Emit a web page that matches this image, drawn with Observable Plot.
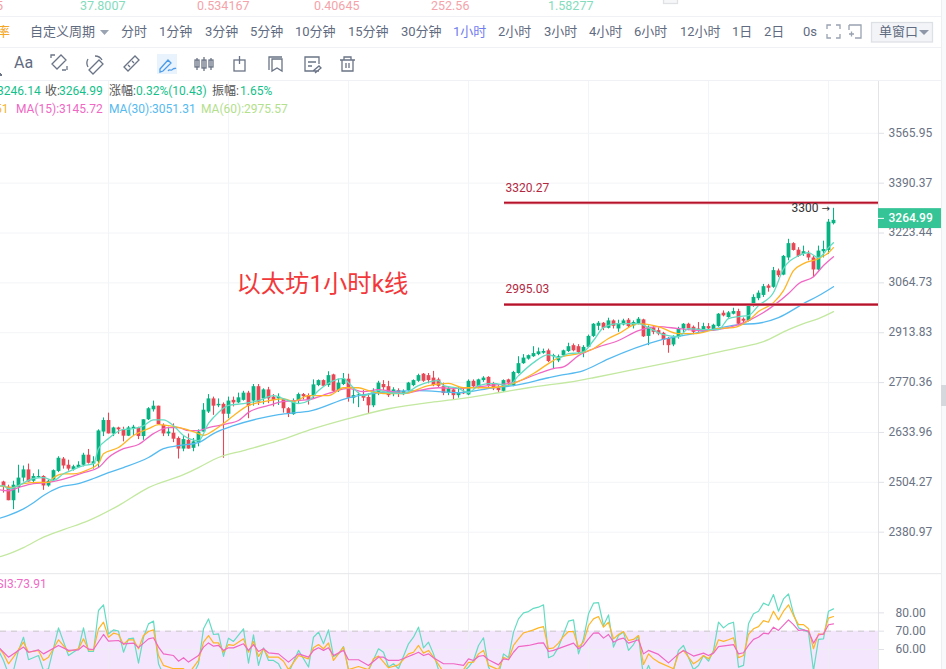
<!DOCTYPE html>
<html><head><meta charset="utf-8">
<script src="https://cdn.jsdelivr.net/npm/d3@7"></script>
<script src="https://cdn.jsdelivr.net/npm/@observablehq/plot@0.6"></script>
<style>
html,body{margin:0;padding:0;background:#fff;width:946px;height:669px;overflow:hidden;font-family:Roboto,"Noto Sans CJK SC",sans-serif}
#head{position:relative;width:946px;height:81px;overflow:hidden}
#head span{position:absolute;white-space:nowrap}
.hl{position:absolute;left:0;width:941px;height:1px;background:#f0f1f5}
.t{font-size:13px;color:#5f6b80;top:24px;line-height:16px}
.n{font-size:12.5px;top:0;line-height:11px}
#head svg{position:absolute;left:0;top:0}
#strip{position:absolute;left:941px;top:0;width:5px;height:669px;background:#f8f9fb;border-left:1px solid #eceef2}
#tab{position:absolute;left:941px;top:385px;width:5px;height:21px;background:#d5d8dd}
svg.plot,figure{margin:0}
#wrap svg{display:block}
#legend{position:absolute;left:0;top:0;width:878px;height:120px;pointer-events:none;overflow:hidden}
#legend span{position:absolute;white-space:nowrap}
</style></head><body>
<div id="head"></div>
<div id="wrap"></div>
<div id="legend"></div>
<div id="strip"></div><div id="tab"></div>
<script>
// ---------- candles (one hourly bar per entry) ----------
const opens=[2505,2492,2458,2491,2515,2536,2507,2516,2519,2495,
2510,2532,2564,2548,2536,2542,2548,2574,2551,2557,
2635,2666,2630,2646,2641,2624,2644,2646,2623,2668,
2695,2705,2653,2630,2632,2618,2590,2613,2592,2606,
2635,2689,2725,2706,2710,2683,2721,2714,2721,2741,
2719,2759,2725,2750,2730,2725,2723,2698,2682,2719,
2737,2734,2734,2762,2776,2762,2792,2748,2765,2780,
2727,2734,2736,2729,2706,2740,2765,2759,2737,2748,
2740,2748,2762,2774,2794,2790,2783,2778,2759,2740,
2750,2734,2743,2736,2774,2757,2776,2785,2767,2755,
2746,2778,2762,2796,2824,2837,2844,2850,2854,2861,
2844,2832,2847,2859,2876,2873,2854,2871,2903,2933,
2942,2927,2949,2925,2937,2951,2934,2941,2952,2903,
2928,2920,2912,2897,2878,2900,2925,2939,2930,2925,
2918,2932,2920,2932,2972,2959,2969,2977,2954,2948,
2993,3016,3026,3055,3051,3102,3089,3143,3189,3168,
3154,3156,3143,3105,3163,3167,3254];
const closes=[2492,2458,2497,2515,2536,2505,2519,2519,2495,2507,
2534,2566,2546,2538,2544,2548,2574,2553,2557,2638,
2666,2630,2646,2641,2624,2646,2648,2623,2668,2698,
2705,2655,2630,2635,2616,2590,2615,2590,2609,2635,
2694,2725,2705,2710,2683,2719,2714,2728,2741,2705,
2759,2716,2750,2725,2721,2730,2698,2685,2719,2737,
2731,2720,2764,2776,2760,2790,2746,2769,2780,2727,
2734,2736,2727,2706,2743,2769,2756,2734,2750,2739,
2746,2769,2776,2790,2774,2776,2762,2760,2740,2753,
2734,2740,2739,2774,2759,2778,2783,2762,2753,2748,
2776,2769,2799,2824,2840,2847,2853,2858,2859,2830,
2847,2844,2861,2873,2861,2856,2871,2903,2939,2942,
2927,2949,2933,2939,2949,2932,2944,2954,2902,2930,
2915,2910,2892,2876,2900,2925,2939,2925,2915,2920,
2932,2925,2936,2969,2964,2973,2977,2939,2948,2993,
3020,3033,3053,3048,3103,3087,3148,3189,3167,3148,
3163,3143,3105,3165,3170,3259,3265];
const highs=[2507,2497,2507,2548,2546,2551,2526,2536,2521,2510,
2536,2570,2568,2561,2548,2557,2579,2589,2570,2641,
2673,2686,2648,2648,2648,2650,2653,2648,2668,2701,
2719,2705,2657,2648,2657,2622,2623,2630,2618,2641,
2712,2737,2730,2725,2714,2730,2730,2741,2746,2746,
2765,2765,2753,2757,2737,2739,2725,2701,2725,2741,
2740,2739,2778,2778,2778,2801,2794,2780,2796,2794,
2753,2743,2748,2739,2753,2774,2776,2774,2756,2753,
2750,2771,2778,2794,2796,2796,2802,2783,2769,2759,
2753,2756,2756,2778,2778,2780,2787,2787,2771,2762,
2778,2780,2802,2844,2850,2849,2873,2869,2866,2866,
2851,2849,2863,2883,2881,2879,2876,2907,2941,2947,
2944,2957,2952,2951,2954,2956,2949,2959,2954,2934,
2932,2928,2915,2900,2905,2930,2941,2942,2934,2944,
2942,2941,2939,2971,2979,2977,2987,2984,2958,2996,
3028,3040,3060,3060,3113,3108,3151,3203,3192,3176,
3181,3165,3148,3181,3197,3268,3305];
const lows=[2477,2458,2436,2477,2505,2505,2501,2515,2484,2492,
2505,2529,2538,2533,2533,2540,2544,2551,2538,2540,
2623,2630,2623,2629,2609,2623,2626,2615,2613,2666,
2689,2655,2623,2623,2607,2564,2583,2590,2583,2596,
2635,2685,2680,2701,2566,2671,2703,2712,2719,2671,
2705,2707,2709,2712,2703,2707,2686,2674,2680,2712,
2722,2708,2725,2759,2757,2757,2743,2743,2762,2716,
2711,2701,2718,2683,2701,2734,2748,2729,2731,2729,
2734,2746,2759,2771,2771,2767,2759,2757,2734,2734,
2722,2727,2737,2734,2753,2753,2771,2757,2748,2743,
2743,2762,2759,2794,2822,2834,2842,2847,2851,2827,
2808,2827,2844,2856,2858,2853,2841,2869,2900,2920,
2920,2925,2925,2915,2934,2928,2925,2937,2900,2876,
2908,2905,2876,2854,2873,2895,2910,2920,2908,2915,
2915,2922,2918,2930,2961,2957,2967,2934,2938,2946,
2990,3010,3020,3036,3048,3081,3087,3134,3165,3145,
3148,3134,3081,3102,3143,3154,3250];

// ---------- moving averages, [bar, value] read at the bends ----------
const ma5=[[-1,2494],[0,2496],[1,2488],[3,2496],[6,2514],[8,2516],[10,2509],[12,2526],[14,2537],[16,2547],[18,2552],[19,2591],[21,2618],[24,2642],[26,2644],[28,2652],[30,2668],[32,2668],[34,2652],[36,2626],[39,2612],[41,2658],[43,2688],[45,2707],[48,2712],[51,2720],[54,2734],[57,2720],[59,2712],[61,2720],[63,2748],[68,2782],[69,2770],[72,2734],[75,2748],[77,2742],[80,2740],[83,2762],[87,2776],[88,2762],[91,2754],[93,2742],[95,2762],[98,2768],[101,2762],[103,2790],[106,2827],[109,2850],[111,2841],[113,2853],[115,2855],[116,2858],[118,2891],[120,2929],[123,2941],[127,2941],[129,2929],[132,2908],[135,2902],[137,2926],[140,2923],[143,2923],[145,2956],[147,2962],[149,2965],[151,2995],[154,3035],[156,3109],[159,3150],[161,3160],[163,3144],[165,3176],[166,3192]];
const ma10=[[-1,2496],[2,2491],[4,2501],[7,2504],[9,2504],[10,2516],[12,2526],[14,2526],[17,2537],[19,2552],[20,2578],[23,2594],[26,2626],[29,2644],[31,2655],[33,2652],[36,2644],[39,2631],[40,2626],[42,2639],[44,2658],[46,2679],[49,2707],[51,2715],[53,2720],[56,2725],[58,2718],[61,2734],[65,2734],[68,2756],[71,2756],[73,2748],[76,2740],[80,2740],[85,2762],[89,2768],[92,2756],[97,2756],[102,2768],[106,2796],[109,2824],[111,2841],[115,2853],[118,2867],[121,2897],[123,2911],[127,2941],[131,2932],[135,2911],[138,2911],[143,2926],[146,2929],[149,2950],[151,2977],[154,3004],[156,3041],[158,3103],[160,3125],[163,3141],[165,3160],[166,3176]];
const ma15=[[-1,2486],[1,2483],[3,2491],[6,2501],[9,2504],[13,2516],[16,2529],[19,2542],[21,2568],[24,2591],[27,2602],[30,2631],[33,2647],[35,2647],[37,2639],[39,2639],[41,2647],[45,2658],[47,2666],[49,2688],[53,2707],[56,2718],[61,2723],[65,2740],[69,2754],[72,2745],[75,2751],[80,2740],[83,2748],[87,2756],[91,2754],[97,2762],[102,2770],[107,2796],[110,2810],[112,2815],[115,2847],[118,2867],[123,2891],[127,2920],[131,2932],[135,2926],[140,2920],[145,2929],[149,2950],[152,2974],[154,2995],[157,3032],[159,3062],[162,3084],[164,3119],[166,3147]];
const ma30=[[-1,2414],[1,2422],[4,2438],[6,2453],[8,2471],[11,2491],[15,2501],[18,2514],[21,2529],[24,2542],[29,2568],[32,2591],[35,2599],[39,2607],[42,2631],[46,2652],[51,2671],[55,2682],[59,2688],[61,2691],[69,2728],[75,2742],[83,2748],[91,2742],[98,2756],[102,2762],[109,2784],[111,2790],[116,2804],[121,2838],[131,2891],[138,2911],[147,2938],[151,2942],[155,2959],[160,3001],[163,3025],[166,3053]];
const ma60=[[-1,2322],[0,2325],[4,2344],[8,2369],[12,2387],[17,2409],[23,2446],[29,2491],[36,2524],[39,2542],[43,2568],[48,2586],[55,2612],[62,2644],[69,2671],[77,2698],[85,2715],[90,2723],[99,2742],[105,2756],[115,2776],[118,2784],[125,2804],[135,2833],[147,2870],[152,2888],[157,2923],[160,2941],[163,2956],[166,2977]];

// ---------- RSI pane, [bar, value] ----------
const rsi1=[[-1,59.5],[0,54],[1,46.7],[2,48.5],[3,59.5],[4,66.7],[5,54.4],[7,56.7],[8,48.5],[9,49.5],[11,71.8],[13,56.7],[15,60.4],[16,71.8],[17,58.9],[18,58.9],[19,81.3],[20,84.4],[21,68.5],[22,70.7],[23,70],[24,58.5],[25,65.8],[26,66.2],[27,52.5],[28,66.7],[29,74],[30,75.5],[31,52.2],[32,46],[35,44],[38,46.7],[39,52.2],[40,71.3],[41,76.7],[42,68.2],[43,68.5],[44,56.2],[45,66.2],[46,64.4],[48,71.3],[49,52.5],[50,68],[51,51.3],[52,60.9],[53,54],[54,54],[55,52.2],[56,46.7],[57,47],[59,59.5],[61,50.4],[62,66.7],[63,69.5],[64,63.1],[65,70.7],[66,56.2],[67,57.6],[68,61.6],[69,49],[70,47],[72,46],[73,48.5],[75,60.4],[76,58.5],[77,50.4],[78,52.2],[79,49.5],[81,63.1],[82,66.7],[83,72.2],[84,60.9],[85,64],[86,57.6],[87,49],[88,47],[91,46],[92,48],[93,50.4],[94,54],[95,62.2],[96,66.4],[97,50.4],[98,46],[99,46],[100,57.6],[101,55.5],[102,69.5],[103,76.7],[104,80],[105,80.7],[106,82.5],[107,83.1],[108,84.4],[109,55.5],[110,56.7],[111,61.3],[112,68.5],[113,75.5],[114,76.2],[115,57.6],[116,65.8],[117,79.5],[118,85.3],[119,85.6],[120,73.1],[121,78.9],[122,61.3],[123,67.6],[124,69.5],[125,59.5],[126,62.7],[127,67.6],[128,44.9],[129,51.3],[130,44.9],[131,43],[133,45],[134,48.5],[135,59.5],[136,62.2],[138,49],[139,51.3],[140,56.7],[141,53.6],[142,59.5],[143,75],[144,71.8],[145,74],[146,74.9],[147,50.4],[148,51.3],[149,74],[150,79.5],[151,80.9],[152,85.3],[153,84],[154,90],[155,80.9],[156,87.6],[157,90.4],[158,79.5],[159,71.8],[160,70.7],[161,69.5],[162,48.5],[163,65.5],[164,65.8],[165,80.9],[166,82.2]];
const rsi2=[[-1,61.3],[0,57.6],[1,52.2],[2,55.8],[4,64],[5,58.5],[7,59.5],[8,54],[9,55.8],[11,65.3],[13,58.9],[15,60.4],[16,65.8],[17,59.8],[18,59.8],[19,71.3],[20,74.9],[21,66.7],[22,68.9],[23,68.2],[24,62.7],[25,65.3],[26,65.3],[27,60.4],[28,67.6],[29,69.8],[30,70.7],[31,56.7],[32,51.3],[34,49.5],[36,49.5],[37,46.7],[39,54],[40,64],[41,67.6],[42,63.6],[43,63.6],[44,58.5],[45,62.7],[46,62.2],[48,65.8],[49,58.5],[50,64.4],[51,56.2],[52,60.4],[53,55.8],[55,55.8],[56,53.6],[57,49],[59,56.7],[61,54.9],[62,60.9],[63,62.7],[64,60.4],[65,63.6],[66,54],[68,61.3],[69,49],[71,50.7],[73,49],[74,54.9],[75,56.4],[77,50],[79,51.6],[81,57.6],[82,58.5],[83,62.2],[84,58],[85,59.5],[86,55.8],[88,47.7],[92,49],[93,53],[94,53.1],[95,57.6],[96,59.5],[97,51.3],[99,49],[100,55.8],[101,54.4],[102,62.2],[103,65.8],[104,69.1],[105,69.8],[106,70.7],[107,71.8],[108,72.5],[109,60.4],[110,60.9],[111,63.5],[112,67.1],[113,69.8],[114,69.8],[115,61.3],[116,64],[117,73.1],[118,76.7],[119,78],[120,72.2],[121,74.9],[122,65.8],[123,68.2],[124,69.8],[125,64.9],[126,65.5],[127,67.6],[128,51.8],[129,57.6],[130,54.9],[131,53.1],[134,49.5],[135,57.6],[136,59.5],[138,52.2],[139,54],[140,56.7],[141,54.9],[142,58.5],[143,65.3],[144,64.4],[145,65.3],[146,66.4],[147,55.5],[148,56.7],[149,68.2],[150,71.3],[151,72.5],[152,75.8],[153,74.9],[154,80.9],[155,76.2],[156,80.9],[157,84.4],[158,78.5],[159,73.6],[160,73.6],[161,71.3],[162,60.4],[163,68.5],[164,68.2],[165,77.1],[166,78]];
const rsi3=[[-1,61.3],[1,55.8],[4,61.3],[5,58.5],[7,59.8],[8,57.6],[11,62.2],[13,59.5],[15,59.8],[16,62.2],[17,60.2],[18,60],[20,68.2],[21,64.6],[23,64.9],[24,63.1],[26,63.5],[27,61],[29,65.8],[30,66.4],[31,61.3],[32,57.6],[34,56.7],[35,53.6],[36,55.5],[37,53.1],[39,56.7],[40,61.3],[41,63.6],[42,61.8],[43,62.2],[44,59.5],[45,60.9],[46,60.9],[48,63.1],[49,59.5],[50,62.7],[51,58.9],[52,60.4],[53,58.2],[55,57.6],[57,53.1],[59,57.6],[61,55.8],[62,59.5],[63,60.9],[64,59.5],[65,60.9],[66,56.7],[68,59.5],[69,54.4],[71,54.4],[73,51.3],[75,55.8],[76,55.8],[77,54],[79,54],[81,56.2],[82,57.3],[83,58.5],[84,56.7],[85,57.6],[86,55.5],[88,52.2],[90,52.2],[92,51.3],[93,54.9],[94,54],[95,56.2],[96,56.7],[97,54.4],[99,51.6],[100,54.9],[101,54.4],[102,58.5],[103,61.6],[105,62.2],[107,63.5],[108,63.6],[109,58.9],[110,59.5],[114,63.5],[115,60.4],[116,62.2],[117,65.8],[118,68.9],[119,69.1],[120,66.2],[121,68.2],[122,64],[123,65.5],[124,66.2],[125,63.5],[127,65.3],[128,57.6],[129,59.5],[131,57.3],[133,52.7],[135,57.6],[136,59.5],[138,56.4],[140,58],[141,56.7],[142,58],[143,61.6],[146,62.7],[147,57.6],[148,58.2],[149,62.2],[150,65.5],[151,66.7],[152,68.9],[153,68.5],[154,72.2],[155,70.4],[157,76.2],[158,73.6],[159,70.4],[160,70.7],[161,70],[162,63.5],[163,67.9],[164,68.5],[165,73.5],[166,74]];

// ---------- axis ticks, levels, texts ----------
const priceTicks=[3565.95,3390.37,3223.44,3064.73,2913.83,2770.36,2633.96,2504.27,2380.97];
const rsiTicks=[80,70,60];
const gridBars=[21,45,69,93,117,141,165];
const levels=[3320.27,2995.03];
const lastPrice=3264.99;
const topNumbers=[["5",-4,"#f2a0a6"],["37.8007",80,"#84dcbd"],["0.534167",197,"#f4a3aa"],["0.40645",314,"#f4a3aa"],["252.56",431,"#f4a3aa"],["1.58277",548,"#84dcbd"]];
const periods=[["分时",121],["1分钟",159],["3分钟",205],["5分钟",250],["10分钟",295],["15分钟",348],["30分钟",401],["1小时",453],["2小时",498],["3小时",544],["4小时",589],["6小时",634],["12小时",680],["1日",732],["2日",764],["0s",803]];

const COL={up:"#08b383",down:"#e84855",m5:"#62dcc2",m10:"#ffb524",m15:"#f067c4",m30:"#55baf0",m60:"#c3e8a0",grid:"#f3f4f7",axis:"#6a7384"};
const font='Roboto,"Noto Sans CJK SC",sans-serif';
const bars=opens.map((o,i)=>({i,o,c:closes[i],h:highs[i],l:lows[i],up:closes[i]>=o}));
const xOpt={domain:[-0.6,188.6],range:[0,946]};
const lx=d=>d[0],ly=d=>d[1];

// ---------- price pane ----------
const price=Plot.plot({
 width:946,height:492,marginTop:0,marginBottom:0,marginLeft:0,marginRight:0,
 style:{background:"transparent",fontFamily:font},
 x:{...xOpt,axis:null},
 y:{type:"log",domain:[2283.4,3758],range:[492,0],axis:null},
 marks:[
  Plot.ruleY(priceTicks,{x1:-0.6,x2:175,stroke:COL.grid}),
  Plot.ruleX(gridBars,{stroke:COL.grid}),
  Plot.ruleX([175],{stroke:"#e2e4e8"}),
  Plot.ruleY(priceTicks,{x1:175,x2:176.2,stroke:"#dfe1e6"}),
  Plot.ruleX(bars,{x:"i",y1:"l",y2:"h",stroke:d=>d.up?COL.up:COL.down,strokeWidth:1.1}),
  Plot.ruleX(bars,{x:"i",y1:"o",y2:"c",stroke:d=>d.up?COL.up:COL.down,strokeWidth:3.8}),
  Plot.line(ma60,{x:lx,y:ly,stroke:COL.m60,strokeWidth:1.3,curve:"monotone-x"}),
  Plot.line(ma30,{x:lx,y:ly,stroke:COL.m30,strokeWidth:1.3,curve:"monotone-x"}),
  Plot.line(ma15,{x:lx,y:ly,stroke:COL.m15,strokeWidth:1.3,curve:"monotone-x"}),
  Plot.line(ma10,{x:lx,y:ly,stroke:COL.m10,strokeWidth:1.3,curve:"monotone-x"}),
  Plot.line(ma5,{x:lx,y:ly,stroke:COL.m5,strokeWidth:1.3,curve:"monotone-x"}),
  Plot.ruleY(levels,{x1:100.2,x2:175,stroke:"#e28a98",strokeWidth:3,dy:-1}),
  Plot.ruleY(levels,{x1:100.2,x2:175,stroke:"#b5122b",strokeWidth:1.6,dy:-1}),
  Plot.text(levels,{x:100.4,y:d=>d,text:d=>d.toFixed(2),textAnchor:"start",dy:-16,fontSize:12,fill:"#b3283f"}),
  Plot.text(["3300"],{x:157.6,y:3305,text:d=>d,textAnchor:"start",fontSize:12,fill:"#333"}),
  Plot.text(["→"],{x:163.6,y:3305,text:d=>d,textAnchor:"start",fontSize:10,fontFamily:"DejaVu Sans",fill:"#333"}),
  Plot.text(["以太坊1小时k线"],{x:46.6,y:3062,text:d=>d,textAnchor:"start",fontSize:24.3,fill:"#f2383a"}),
  Plot.text(priceTicks,{x:177,y:d=>d,text:d=>d.toFixed(2),textAnchor:"start",dy:-0.5,fontSize:12,fill:COL.axis}),
  Plot.rect([lastPrice],{x1:175,x2:187.8,y1:3238,y2:3304,fill:"#34c495"}),
  Plot.ruleY([lastPrice],{x1:175,x2:176.2,stroke:"#fff",dy:-2}),
  Plot.text([lastPrice],{x:177,y:d=>d,text:d=>d.toFixed(2),textAnchor:"start",dy:-2,fontSize:12,fontWeight:500,fill:"#fff"})
 ]
});

// ---------- RSI pane ----------
const rsi=Plot.plot({
 width:946,height:96,marginTop:0,marginBottom:0,marginLeft:0,marginRight:0,
 style:{background:"transparent",fontFamily:font},
 x:{...xOpt,axis:null},
 y:{domain:[49.07,101.5],range:[96,0],axis:null},
 marks:[
  Plot.rect([70],{x1:-0.6,x2:175,y1:49.07,y2:70,fill:"#f4e6fd"}),
  Plot.ruleY([80,60],{x1:-0.6,x2:175,stroke:"#eeeef3"}),
  Plot.ruleX(gridBars,{stroke:"#efedf4"}),
  Plot.ruleY([70],{x1:-0.6,x2:175,stroke:"#c9c9c9",strokeDasharray:"6,5"}),
  Plot.ruleX([175],{stroke:"#e2e4e8"}),
  Plot.ruleY(rsiTicks,{x1:175,x2:176.2,stroke:"#dfe1e6"}),
  Plot.ruleY([101.4],{x1:-0.6,x2:187.8,stroke:"#e6e7ea"}),
  Plot.line(rsi1,{x:lx,y:ly,stroke:COL.m5,strokeWidth:1.2}),
  Plot.line(rsi2,{x:lx,y:ly,stroke:COL.m10,strokeWidth:1.2}),
  Plot.line(rsi3,{x:lx,y:ly,stroke:COL.m15,strokeWidth:1.2}),
  Plot.text(rsiTicks,{x:178.4,y:d=>d,text:d=>d.toFixed(2),textAnchor:"start",fontSize:12,fill:COL.axis}),
  Plot.text(["SI3:73.91"],{x:-1.4,y:95.5,text:d=>d,textAnchor:"start",fontSize:12,fill:"#ef6ac6"})
 ]
});
const wrap=document.getElementById("wrap");
wrap.append(price,rsi);

// ---------- toolbar ----------
const head=document.getElementById("head");
function span(txt,cls,left,extra){const s=document.createElement("span");s.textContent=txt;s.className=cls;s.style.left=left+"px";if(extra)Object.assign(s.style,extra);head.append(s);return s;}
topNumbers.forEach(([t,x,c])=>span(t,"n",x,{color:c}));
[16,47,80].forEach(y=>{const d=document.createElement("div");d.className="hl";d.style.top=y+"px";head.append(d);});
span("率","t",-3,{color:"#f5a623"});
span("自定义周期","t",30);
periods.forEach(([t,x])=>span(t,"t",x,t==="1小时"?{color:"#6f7df0"}:{}));
span("单窗口","t",879,{color:"#5f6b80"});
span("Aa","t",14,{top:"55px",fontSize:"16px",color:"#5f6b80"});
head.insertAdjacentHTML("beforeend",`<svg width="946" height="81" fill="none" stroke="#6a7486" stroke-width="1.3">
<rect x="663.500" y="-3" width="14" height="6.500" fill="#f6f7f9" stroke="#dfe1e5"/>
<path d="M100 30h9l-4.500 5z" fill="#9aa3b2" stroke="none"/>
<g stroke="#99a2b1"><path d="M827 29v-4h4M836 25h4v4M840 34v4h-4M831 38h-4v-4" />
<path d="M849 25h12v13h-6M849 25v5M849 34h5M851.500 31.500v5"/></g>
<rect x="871.500" y="22.500" width="61" height="19.500" fill="#f2f4f7" stroke="#dde1e6"/>
<path d="M919 30h10l-5 5z" fill="#8d97a8" stroke="none"/>
<path d="M0 73v2h2" stroke-width="2"/>
<path d="M52 64l9-9 5 5-9 9z M51 58v-3h4 M66 70h-4v0 M67 66v4"/>
<path d="M89 70l10-10 4 4-10 10z M95 56a8 8 0 0 1 7 4 M88 67a8 8 0 0 1 0-8"/>
<path d="M124 67l11-11 4 4-11 11z M128 65l2 2 M132 61l2 2"/>
<rect x="157" y="54" width="20" height="20" fill="#e9f3fd" stroke="none"/>
<path d="M160 69l8-9 3 3-8 8-3 1z M168 71c2-3 3 1 5-2 1-1 2 0 3-1" stroke="#4b9be8"/>
<path d="M197 58v12M204 57v14M211 58v12"/><rect x="195" y="60" width="4" height="7"/><rect x="202" y="60" width="4" height="8"/><rect x="209" y="60" width="4" height="7"/>
<rect x="234" y="60" width="11" height="11"/><path d="M239.500 56v8"/>
<path d="M269 70v-13h13M272 59h10v12l-5-3-5 3z"/>
<path d="M319 71h-14v-14h14v7M308 62h8M308 66h4M313 71l6-5 2 2-6 5"/>
<path d="M340 60h15M344 60v-3h7v3M342 60v11h11v-11M346 63v5M349 63v5"/>
</svg>`);
head.querySelectorAll("span").forEach(s=>{s.style.zIndex=2});

// ---------- legend lines ----------
const lg=document.getElementById("legend");
function leg(t,x,y,c){const s=document.createElement("span");s.textContent=t;s.style.cssText=`left:${x}px;top:${y}px;color:${c};font-size:12px;line-height:14px`;lg.append(s);}
const g="#14bf8a",k="#555";
leg("3246.14",-3,84,g);
leg("收:",45,84,k);leg("3264.99",59,84,g);
leg("涨幅:",109,84,k);leg("0.32%(10.43)",136,84,g);
leg("振幅:",212,84,k);leg("1.65%",240,84,g);
leg("51",-5,102,"#f7b42c");
leg("MA(15):3145.72",16,102,COL.m15);
leg("MA(30):3051.31",109,102,COL.m30);
leg("MA(60):2975.57",201,102,"#b3e08c");
</script>
</body></html>
